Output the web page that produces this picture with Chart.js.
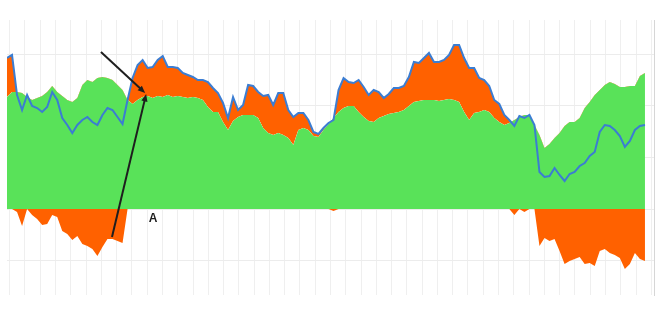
<!DOCTYPE html>
<html>
<head>
<meta charset="utf-8">
<script src="https://cdn.jsdelivr.net/npm/chart.js@4.4.0/dist/chart.umd.min.js"></script>
<style>
  html, body { margin: 0; padding: 0; background: #fff; }
  #wrap { width: 660px; height: 309px; }
</style>
</head>
<body>
<div id="wrap"><canvas id="chart1"></canvas></div>
<script>
// one point per step along the x axis
const steps = Array.from({ length: 128 }, (_, i) => i);

// blue line
const blueSeries = [
  151, 154, 114, 99, 114, 103, 101, 97, 102, 117, 109, 91, 84, 76, 84, 89,
  92, 87, 84, 94, 101, 99, 92, 85, 109, 131, 144, 149, 141, 142, 149, 153,
  142, 142, 141, 136, 134, 132, 129, 129, 127, 121, 116, 106, 91, 112, 99, 104,
  124, 123, 117, 113, 114, 104, 116, 116, 99, 92, 96, 96, 89, 77, 75, 81,
  86, 89, 119, 131, 127, 126, 129, 122, 114, 119, 117, 111, 115, 121, 121, 123,
  132, 147, 146, 151, 156, 147, 147, 149, 154, 164, 164, 151, 141, 141, 131, 129,
  123, 109, 105, 94, 89, 83, 93, 91, 94, 84, 37, 32, 33, 41, 34, 28,
  35, 37, 43, 46, 53, 57, 77, 84, 83, 79, 73, 62, 68, 79, 83, 84
];

// green area
const greenSeries = [
  112, 117, 117, 116, 112, 109, 111, 113, 117, 123, 117, 113, 109, 107, 111, 124,
  129, 127, 131, 132, 131, 129, 124, 119, 109, 105, 109, 112, 113, 111, 113, 112,
  114, 112, 113, 112, 111, 112, 111, 109, 102, 97, 97, 87, 79, 88, 92, 94,
  94, 94, 91, 81, 76, 74, 76, 74, 71, 64, 79, 81, 79, 73, 72, 79,
  85, 91, 97, 101, 103, 103, 97, 92, 88, 87, 91, 93, 95, 96, 97, 99,
  103, 107, 108, 109, 109, 109, 108, 109, 110, 109, 107, 97, 89, 96, 97, 99,
  97, 91, 87, 84, 86, 89, 92, 94, 94, 84, 74, 61, 65, 71, 76, 83,
  87, 87, 91, 101, 107, 114, 119, 124, 127, 125, 122, 122, 123, 123, 133, 136
];

// gap when blue falls under green, shown below zero
const gapSeries = blueSeries.map((v, i) => Math.min(0, v - greenSeries[i]));

// annotation: two arrows and a label, in data units
const arrows = [
  { from: [18.7, 157], to: [27.5, 116] },
  { from: [20.9, -28], to: [27.7, 115] }
];
const noteLabel = { text: 'A', at: [29.1, -10] };

const GREEN = '#59e259';
const ORANGE = '#ff6100';
const BLUE = '#3b7dd2';

const arrowPlugin = {
  id: 'arrows',
  afterDatasetsDraw(chart) {
    const { ctx, scales: { x, y } } = chart;
    ctx.save();
    ctx.strokeStyle = '#1e1e1e';
    ctx.fillStyle = '#1e1e1e';
    ctx.lineWidth = 2;
    arrows.forEach(a => {
      const x0 = x.getPixelForValue(a.from[0]), y0 = y.getPixelForValue(a.from[1]);
      const x1 = x.getPixelForValue(a.to[0]), y1 = y.getPixelForValue(a.to[1]);
      const ang = Math.atan2(y1 - y0, x1 - x0);
      ctx.beginPath();
      ctx.moveTo(x0, y0);
      ctx.lineTo(x1 - 4 * Math.cos(ang), y1 - 4 * Math.sin(ang));
      ctx.stroke();
      ctx.beginPath();
      ctx.moveTo(x1, y1);
      ctx.lineTo(x1 - 8 * Math.cos(ang - 0.4), y1 - 8 * Math.sin(ang - 0.4));
      ctx.lineTo(x1 - 8 * Math.cos(ang + 0.4), y1 - 8 * Math.sin(ang + 0.4));
      ctx.closePath();
      ctx.fill();
    });
    ctx.font = 'bold 12px "Liberation Sans", Arial, sans-serif';
    ctx.textAlign = 'center';
    ctx.textBaseline = 'middle';
    ctx.fillText(noteLabel.text, x.getPixelForValue(noteLabel.at[0]), y.getPixelForValue(noteLabel.at[1]));
    ctx.restore();
  }
};

const ctx = document.getElementById('chart1').getContext('2d');

const chart1 = new Chart(ctx, {
  type: 'line',
  data: {
    labels: steps,
    datasets: [
      {
        label: 'blue',
        data: blueSeries.map((v, i) => ({ x: steps[i], y: v })),
        borderColor: BLUE,
        borderWidth: 2,
        pointRadius: 0,
        fill: { target: 2, above: ORANGE, below: 'rgba(0,0,0,0)' },
        order: 0
      },
      {
        label: 'gap',
        data: gapSeries.map((v, i) => ({ x: steps[i], y: v })),
        borderWidth: 0,
        borderColor: ORANGE,
        backgroundColor: ORANGE,
        pointRadius: 0,
        fill: 'origin',
        order: 1
      },
      {
        label: 'green',
        data: greenSeries.map((v, i) => ({ x: steps[i], y: v })),
        borderWidth: 0,
        borderColor: GREEN,
        backgroundColor: GREEN,
        pointRadius: 0,
        fill: 'origin',
        order: 2
      }
    ]
  },
  options: {
    responsive: true,
    maintainAspectRatio: false,
    animation: false,
    layout: { padding: { left: 7, right: 6, top: 20, bottom: 14 } },
    elements: { line: { tension: 0 } },
    plugins: {
      legend: { display: false },
      tooltip: { enabled: false }
    },
    scales: {
      x: {
        type: 'linear',
        min: 0,
        max: 128.8,
        afterBuildTicks(scale) {
          const t = [];
          for (let k = 0; k <= 42; k++) t.push({ value: 0.537 + 3.041 * k });
          scale.ticks = t;
        },
        ticks: { display: false },
        grid: { color: '#efefef', drawTicks: false },
        border: { display: false }
      },
      y: {
        position: 'right',
        min: -86,
        max: 189,
        ticks: { display: false, stepSize: 51.6, includeBounds: false },
        grid: { color: '#ececec', drawTicks: false },
        border: { display: true, color: '#d6d6d6' }
      }
    }
  },
  plugins: [arrowPlugin]
});
</script>
</body>
</html>
